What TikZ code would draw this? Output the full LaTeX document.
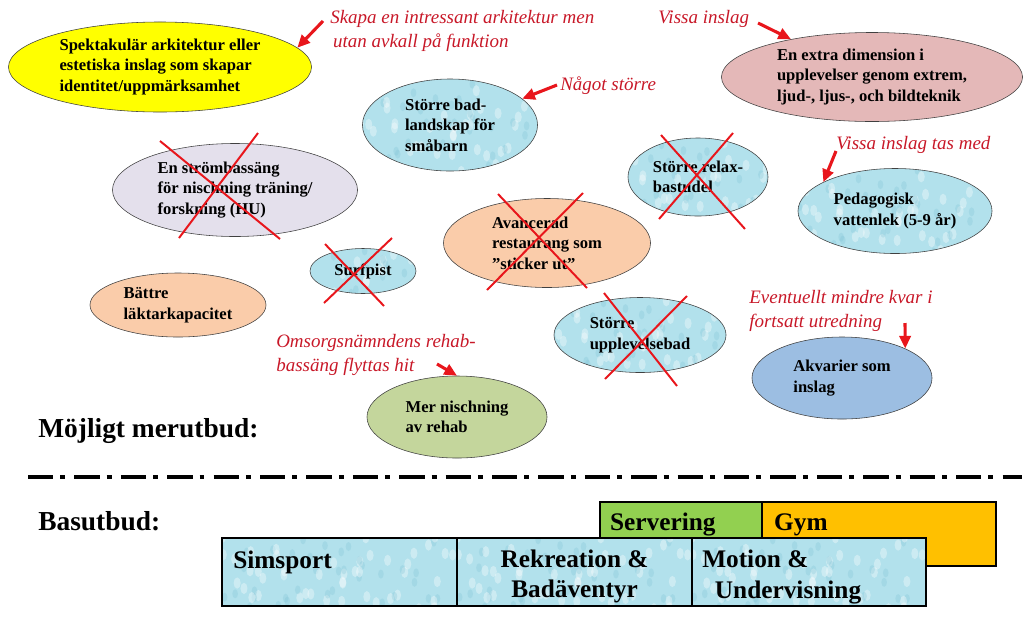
\documentclass[tikz,border=0pt]{standalone}
\usepackage{fontspec}
\setmainfont{Liberation Serif}
\usetikzlibrary{positioning,shapes.geometric,arrows.meta}

\definecolor{water}{RGB}{178,225,236}
\definecolor{waterdark}{RGB}{120,190,210}
\definecolor{ideayellow}{RGB}{255,255,0}
\definecolor{ideapink}{RGB}{228,184,184}
\definecolor{idealilac}{RGB}{228,224,236}
\definecolor{ideapeach}{RGB}{250,204,170}
\definecolor{ideagreen}{RGB}{196,214,156}
\definecolor{ideablue}{RGB}{156,190,226}
\definecolor{servgreen}{RGB}{146,208,80}
\definecolor{gymorange}{RGB}{255,192,0}
\definecolor{notered}{RGB}{200,24,40}
\definecolor{arrowred}{RGB}{232,22,28}

\tikzset{
  waterfill/.style={fill=water,
    path picture={
      \pgfmathsetseed{11}
      \foreach \k in {1,...,70}{
        \fill[waterdark, opacity=0.25] ([shift={(rnd*8cm-4cm,rnd*2.4cm-1.2cm)}]path picture bounding box.center) ellipse (2pt and 3.2pt);
        \fill[white, opacity=0.35] ([shift={(rnd*8cm-4cm,rnd*2.4cm-1.2cm)}]path picture bounding box.center) ellipse (2.5pt and 4pt);
      }
    }},
}

\begin{document}
\begin{tikzpicture}[x=0.025cm, y=-0.025cm,
    idea/.style={ellipse, draw=black!75, thin, inner sep=0pt, align=left, font=\bfseries\fontsize{11.8}{14.6}\selectfont},
    wateridea/.style={idea, waterfill},
    note/.style={text=notered, align=left, inner sep=0pt, font=\itshape\fontsize{13.5}{17}\selectfont},
    redarrow/.style={draw=arrowred, line width=2.2pt, -{Triangle[length=9pt,width=8pt]}},
    strike/.style={draw=arrowred, line width=1.4pt},
    heading/.style={inner sep=0pt, font=\bfseries\fontsize{19.5}{24}\selectfont},
    basebox/.style={rectangle, draw=black, line width=1pt, inner sep=0pt, outer sep=0pt},
    boxtext/.style={inner sep=0pt, align=left, font=\bfseries\fontsize{18}{21.5}\selectfont},
  ]
  \useasboundingbox (0,0) rectangle (1024,620);

  %Ideas
  \node[idea, fill=ideayellow, minimum width=7.575cm, minimum height=2.25cm] (spekt) at (160,67) {Spektakulär arkitektur eller\\estetiska inslag som skapar\\identitet/uppmärksamhet};
  \node[wateridea, minimum width=4.375cm, minimum height=2.3cm] (badland) at (450,125) {Större bad-\\landskap för\\småbarn};
  \node[idea, fill=ideapink, minimum width=7.525cm, minimum height=2.225cm] (extra) at (872,77) {En extra dimension i\\upplevelser genom extrem,\\ljud-, ljus-, och bildteknik};
  \node[idea, fill=idealilac, minimum width=6.125cm, minimum height=2.325cm] (strom) at (235,190) {En strömbassäng\\för nischning träning/\\forskning (HU)};
  \node[wateridea, minimum width=3.5cm, minimum height=1.95cm] (relax) at (698,177) {Större relax-\\bastudel};
  \node[wateridea, minimum width=4.85cm, minimum height=2.125cm] (peda) at (895,211) {Pedagogisk\\vattenlek (5-9 år)};
  \node[idea, fill=ideapeach, minimum width=5.175cm, minimum height=2.225cm] (resto) at (547,243) {Avancerad\\restaurang som\\”sticker ut”};
  \node[wateridea, minimum width=2.65cm, minimum height=1.125cm] (surf) at (363,271) {Surfpist};
  \node[idea, fill=ideapeach, minimum width=4.4cm, minimum height=1.6cm] (laktare) at (178,305) {Bättre\\läktarkapacitet};
  \node[wateridea, minimum width=4.3cm, minimum height=1.875cm] (upplev) at (640,335) {Större\\upplevelsebad};
  \node[idea, fill=ideablue, minimum width=4.5cm, minimum height=2.05cm] (akv) at (842,378) {Akvarier som\\inslag};
  \node[idea, fill=ideagreen, minimum width=4.5cm, minimum height=2.05cm] (rehab) at (457,417) {Mer nischning\\av rehab};

  %Crossed out
  \draw[strike] (160,141) -- (280,239);
  \draw[strike] (258,133) -- (179,238);
  \draw[strike] (325,244) -- (384,306);
  \draw[strike] (392,238) -- (324,303);
  \draw[strike] (498,194) -- (587,288);
  \draw[strike] (583,193) -- (487,290);
  \draw[strike] (661,135) -- (745,229);
  \draw[strike] (733,133) -- (659,219);
  \draw[strike] (604,293) -- (677,386);
  \draw[strike] (687,296) -- (605,379);

  %Notes
  \node[note, anchor=west] (skapa) at (330,31) {Skapa en intressant arkitektur men\\\hspace{2pt}utan avkall på funktion};
  \node[note, anchor=west] (vissa) at (658,19) {Vissa inslag};
  \node[note, anchor=west] (nagot) at (560,86) {Något större};
  \node[note, anchor=west] (tasmed) at (836,145) {Vissa inslag tas med};
  \node[note, anchor=west] (eventuellt) at (749,311) {Eventuellt mindre kvar i\\fortsatt utredning};
  \node[note, anchor=west] (omsorg) at (276,355) {Omsorgsnämndens rehab-\\bassäng flyttas hit};

  %Arrows
  \coordinate (skapaarrow) at (323,21);
  \coordinate (nagotarrow) at (557,85);
  \coordinate (vissaarrow) at (758,23);
  \coordinate (tasmedarrow) at (836,151);
  \coordinate (evarrow) at (905,323);
  \coordinate (omsorgarrow) at (437,364);
  \draw[redarrow] (skapaarrow) -- (spekt.8);
  \draw[redarrow] (nagotarrow) -- (badland.20);
  \draw[redarrow] (vissaarrow) -- (extra.155);
  \draw[redarrow] (tasmedarrow) -- (peda.158);
  \draw[redarrow] (evarrow) -- (akv.25);
  \draw[redarrow] (omsorgarrow) -- (rehab.north);

  %Divider
  \node[heading, anchor=west] (merutbud) at (38,431) {Möjligt merutbud:};
  \coordinate (divleft) at (28,477);
  \coordinate (divright) at (1022,477);
  \draw[line width=2.8pt, dash pattern=on 18pt off 5pt on 3.5pt off 6.5pt] (divleft) -- (divright);
  \node[heading, anchor=west] (basutbud) at (38,521) {Basutbud:};

  %Base offer
  \node[basebox, fill=servgreen, minimum width=4.05cm, minimum height=1.6cm, anchor=north west] (serv) at (600,502) {};
  \node[basebox, fill=gymorange, minimum width=5.85cm, minimum height=1.6cm, anchor=north west] (gym) at (762,502) {};
  \node[basebox, waterfill, minimum width=5.875cm, minimum height=1.7cm, anchor=north west] (sim) at (222,538) {};
  \node[basebox, waterfill, minimum width=5.875cm, minimum height=1.7cm, right=0pt of sim] (rekr) {};
  \node[basebox, waterfill, minimum width=5.85cm, minimum height=1.7cm, right=0pt of rekr] (motion) {};

  \node[boxtext, below right=7.8pt and 7pt of serv.north west] (servtxt) {Servering};
  \node[boxtext, below right=7.8pt and 8.5pt of gym.north west] (gymtxt) {Gym};
  \node[boxtext, below right=9pt and 7.8pt of sim.north west] (simtxt) {Simsport};
  \node[boxtext, align=center] (rekrtxt) at ([yshift=-3pt]rekr.center) {Rekreation \&\\Badäventyr};
  \node[boxtext, below right=8.5pt and 7pt of motion.north west] (motiontxt) {Motion \&\\\hspace{9pt}Undervisning};
\end{tikzpicture}
\end{document}
